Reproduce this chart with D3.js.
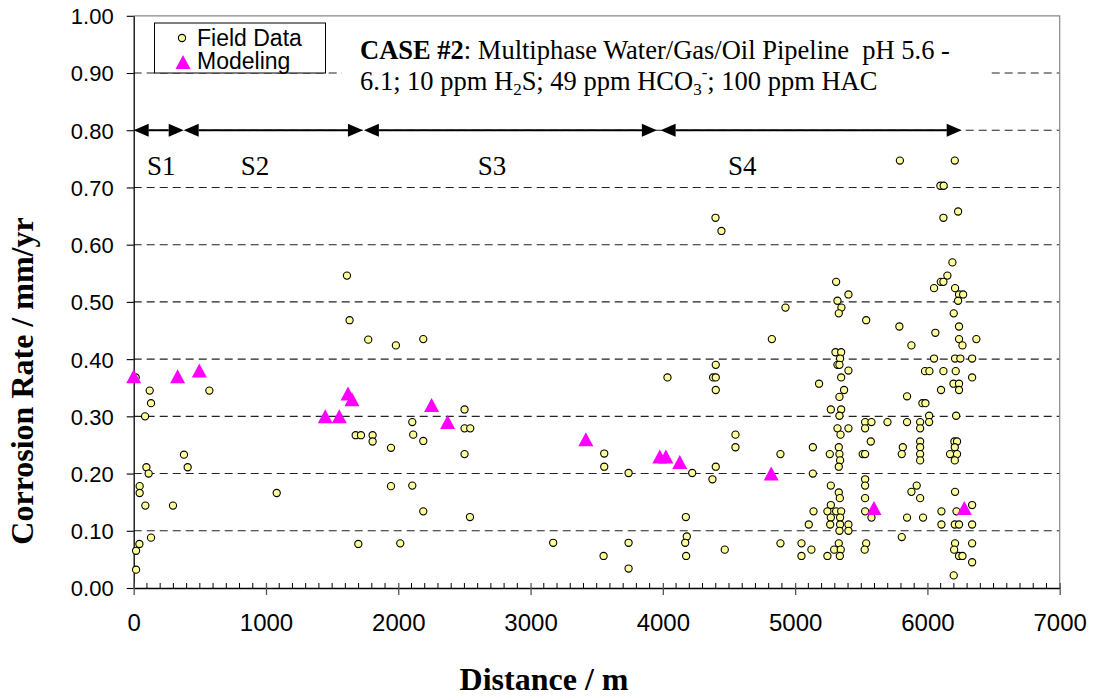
<!DOCTYPE html>
<html>
<head>
<meta charset="utf-8">
<script src="https://cdn.jsdelivr.net/npm/d3@7.9.0/dist/d3.min.js"></script>
<style>
  body { margin: 0; background: #fff; }
  svg { display: block; }
  .sans { font-family: "Liberation Sans", Arial, sans-serif; }
  .serif { font-family: "Liberation Serif", "Times New Roman", serif; }
</style>
</head>
<body>
<svg id="chart" width="1093" height="696"></svg>
<script>
// field measurements: [distance m, corrosion rate mm/yr]
const fieldData = [
  [15,0.368],[121,0.345],[131,0.323],[86,0.300],[96,0.211],[113,0.200],[45,0.178],[45,0.166],
  [88,0.144],[131,0.088],[43,0.077],[18,0.065],[18,0.032],
  [572,0.345],[380,0.233],[408,0.211],[297,0.144],[1081,0.166],
  [1612,0.546],[1632,0.468],[1773,0.434],[1982,0.424],[1678,0.267],[1718,0.267],[1806,0.267],
  [1806,0.256],[1945,0.245],[1945,0.178],[1698,0.077],[2015,0.078],
  [2189,0.435],[2106,0.290],[2113,0.268],[2189,0.257],[2501,0.312],[2501,0.279],[2544,0.279],
  [2501,0.234],[2106,0.179],[2189,0.134],[2542,0.124],[3171,0.079],
  [3557,0.235],[3557,0.212],[3741,0.201],[3552,0.056],[3741,0.079],[3741,0.034],
  [4035,0.368],[4400,0.390],[4380,0.368],[4400,0.368],[4400,0.346],[4222,0.201],[4400,0.212],
  [4375,0.190],[4174,0.124],[4181,0.090],[4169,0.079],[4176,0.056],[4468,0.067],[4549,0.268],
  [4549,0.246],[4398,0.647],[4443,0.624],
  [4824,0.435],[4927,0.490],[4889,0.234],[4889,0.078],
  [5310,0.535],[5403,0.513],[5320,0.502],[5350,0.490],[5330,0.480],[5537,0.468],[5305,0.412],
  [5348,0.412],[5340,0.401],[5320,0.390],[5335,0.390],[5403,0.380],[5348,0.368],[5181,0.357],
  [5370,0.346],[5335,0.334],[5270,0.312],[5348,0.312],[5335,0.301],[5320,0.279],[5403,0.279],
  [5343,0.268],[5134,0.246],[5330,0.246],[5262,0.234],[5335,0.234],[5340,0.223],[5330,0.212],
  [5134,0.200],[5270,0.179],[5330,0.167],[5338,0.157],[5270,0.145],[5139,0.134],[5244,0.134],
  [5310,0.134],[5348,0.134],[5270,0.123],[5340,0.123],[5103,0.111],[5265,0.111],[5340,0.111],
  [5403,0.111],[5335,0.100],[5403,0.100],[5048,0.078],[5330,0.078],[5123,0.067],[5295,0.067],
  [5345,0.067],[5048,0.056],[5244,0.056],[5338,0.056],
  [5529,0.290],[5577,0.290],[5529,0.279],[5572,0.256],[5511,0.234],[5529,0.234],[5529,0.190],
  [5529,0.179],[5529,0.157],[5529,0.134],[5577,0.123],[5537,0.078],[5526,0.067],
  [5698,0.290],[5788,0.457],[5879,0.424],[5846,0.335],[5846,0.290],[5814,0.246],[5806,0.234],
  [5846,0.123],[5806,0.089],[5919,0.179],[5879,0.168],[5945,0.157],[5967,0.123],[5962,0.323],
  [5985,0.323],[5945,0.290],[5945,0.279],[5945,0.256],[5945,0.246],[5945,0.234],[5945,0.223],
  [6013,0.301],[6013,0.290],[5982,0.379],[6015,0.379],[6050,0.401],[6060,0.446],[6050,0.524],
  [6101,0.535],[6121,0.535],[6151,0.546],[6189,0.569],[6209,0.524],[6239,0.513],[6270,0.513],
  [6232,0.502],[6199,0.480],[6239,0.457],[6239,0.435],[6265,0.424],[6370,0.435],[6209,0.401],
  [6249,0.401],[6338,0.401],[6121,0.379],[6214,0.379],[6338,0.368],[6197,0.357],[6239,0.357],
  [6103,0.346],[6239,0.346],[6217,0.301],[6204,0.256],[6224,0.256],[6207,0.246],[6171,0.234],
  [6224,0.234],[6207,0.223],[6209,0.168],[6338,0.145],[6220,0.134],[6106,0.134],[6106,0.111],
  [6207,0.111],[6239,0.111],[6338,0.111],[6209,0.078],[6338,0.078],[6202,0.067],[6239,0.056],
  [6265,0.056],[6338,0.045],[6199,0.022],
  [6098,0.703],[6123,0.703],[6121,0.647],[6232,0.658],[5792,0.747],[6207,0.747]
];

// model predictions
const modelData = [
  [0,0.37],[332,0.37],[496,0.38],[1448,0.30],[1554,0.30],[1620,0.34],[1650,0.33],[2252,0.32],
  [2373,0.29],[3418,0.26],[3977,0.23],[4023,0.23],[4128,0.22],[4819,0.20],[5596,0.14],[6279,0.14]
];

const xTicks = [0, 1000, 2000, 3000, 4000, 5000, 6000, 7000];
const yTicks = [0, 0.1, 0.2, 0.3, 0.4, 0.5, 0.6, 0.7, 0.8, 0.9, 1.0];

// pipeline sections marked with double arrows at 0.80
const sections = [
  { label: 'S1', from: 0, to: 378, at: 208 },
  { label: 'S2', from: 378, to: 1733, at: 917 },
  { label: 'S3', from: 1740, to: 3955, at: 2708 },
  { label: 'S4', from: 3983, to: 6259, at: 4600 }
];
const sectionLevel = 0.8;

const svg = d3.select('#chart');
const x = d3.scaleLinear().domain([0, 7000]).range([133.7, 1059.7]);
const y = d3.scaleLinear().domain([0, 1]).range([588, 15.8]);

// dashed gridlines
svg.append('g')
  .selectAll('line')
  .data(yTicks.filter(d => d > 0 && d < 1))
  .join('line')
  .attr('x1', x(0)).attr('x2', x(7000))
  .attr('y1', d => y(d)).attr('y2', d => y(d))
  .attr('stroke', '#222')
  .attr('stroke-width', 1.1)
  .attr('stroke-dasharray', '8,5');

// plot frame (top & right)
svg.append('path')
  .attr('d', `M${x(0)},${y(1)}H${x(7000)}V${y(0)}`)
  .attr('fill', 'none')
  .attr('stroke', '#888')
  .attr('stroke-width', 1.2);

// y axis
const yAxis = svg.append('g')
  .attr('transform', `translate(${x(0)},0)`)
  .call(d3.axisLeft(y).tickValues(yTicks).tickSize(7).tickSizeOuter(0).tickFormat(d3.format('.2f')));
yAxis.select('.domain').attr('stroke', '#000').attr('stroke-width', 1.3);
yAxis.selectAll('.tick line').attr('stroke', '#000').attr('stroke-width', 1.1);
yAxis.selectAll('text')
  .attr('class', 'sans')
  .attr('font-size', 22)
  .attr('x', -20)
  .attr('dy', '0.36em')
  .attr('fill', '#000');

// x axis
const xAxis = svg.append('g')
  .attr('transform', `translate(0,${y(0)})`)
  .call(d3.axisBottom(x).tickValues(xTicks).tickSize(7).tickSizeOuter(0).tickFormat(d3.format('d')));
xAxis.select('.domain').attr('stroke', '#000').attr('stroke-width', 1.3);
xAxis.selectAll('.tick line').attr('y1', -5).attr('stroke', '#555').attr('stroke-width', 1.3);
xAxis.selectAll('text')
  .attr('class', 'sans')
  .attr('font-size', 24)
  .attr('y', 26)
  .attr('fill', '#000');

// minor ticks every 100 m, inside
svg.append('g')
  .selectAll('line')
  .data(d3.range(100, 7000, 100).filter(d => d % 1000 !== 0))
  .join('line')
  .attr('x1', d => x(d)).attr('x2', d => x(d))
  .attr('y1', y(0)).attr('y2', y(0) - 5)
  .attr('stroke', '#000').attr('stroke-width', 1);

// axis titles
svg.append('text')
  .attr('class', 'serif')
  .attr('transform', `translate(33,381) rotate(-90)`)
  .attr('text-anchor', 'middle')
  .attr('font-size', 32).attr('font-weight', 'bold')
  .text('Corrosion Rate / mm/yr');

svg.append('text')
  .attr('class', 'serif')
  .attr('x', 544).attr('y', 690)
  .attr('text-anchor', 'middle')
  .attr('font-size', 32).attr('font-weight', 'bold')
  .text('Distance / m');

// annotation box
svg.append('rect')
  .attr('x', 342).attr('y', 30).attr('width', 645).attr('height', 70)
  .attr('fill', '#fff');

const note = svg.append('text')
  .attr('class', 'serif')
  .attr('font-size', 26.5)
  .attr('xml:space', 'preserve')
  .style('white-space', 'pre');
note.append('tspan').attr('x', 360).attr('y', 58.5).attr('font-weight', 'bold').text('CASE #2');
note.append('tspan').text(': Multiphase Water/Gas/Oil Pipeline  pH 5.6 -');
note.append('tspan').attr('x', 360).attr('y', 90).text('6.1; 10 ppm H');
note.append('tspan').attr('dy', 5).attr('font-size', 17).text('2');
note.append('tspan').attr('dy', -5).text('S; 49 ppm HCO');
note.append('tspan').attr('dy', 5).attr('font-size', 17).text('3');
note.append('tspan').attr('dy', -17).attr('font-size', 17).text('-');
note.append('tspan').attr('dy', 12).text('; 100 ppm HAC');

// section arrows
const ah = 15, aw = 6.5;
const arrows = svg.append('g');
sections.forEach(s => {
  const x0 = x(s.from), x1 = x(s.to), yy = y(sectionLevel);
  arrows.append('line')
    .attr('x1', x0 + ah).attr('x2', x1 - ah)
    .attr('y1', yy).attr('y2', yy)
    .attr('stroke', '#000').attr('stroke-width', 2);
  arrows.append('path')
    .attr('d', `M${x0},${yy}L${x0 + ah},${yy - aw}L${x0 + ah},${yy + aw}Z`)
    .attr('fill', '#000');
  arrows.append('path')
    .attr('d', `M${x1},${yy}L${x1 - ah},${yy - aw}L${x1 - ah},${yy + aw}Z`)
    .attr('fill', '#000');
  arrows.append('text')
    .attr('class', 'serif')
    .attr('x', x(s.at)).attr('y', 175)
    .attr('text-anchor', 'middle')
    .attr('font-size', 27)
    .text(s.label);
});

// field data points
svg.append('g')
  .selectAll('circle')
  .data(fieldData)
  .join('circle')
  .attr('cx', d => x(d[0]))
  .attr('cy', d => y(d[1]))
  .attr('r', 3.6)
  .attr('fill', '#ffff99')
  .attr('stroke', '#000')
  .attr('stroke-width', 1.1);

// modeling triangles
const tri = 'M0,-7L7.5,7L-7.5,7Z';
svg.append('g')
  .selectAll('path')
  .data(modelData)
  .join('path')
  .attr('d', tri)
  .attr('transform', d => `translate(${x(d[0])},${y(d[1])})`)
  .attr('fill', '#ff00ff');

// legend
const legend = svg.append('g');
legend.append('rect')
  .attr('x', 154.5).attr('y', 23).attr('width', 171).attr('height', 50)
  .attr('fill', '#fff').attr('stroke', '#000').attr('stroke-width', 1);
legend.append('circle')
  .attr('cx', 182).attr('cy', 38).attr('r', 3.6)
  .attr('fill', '#ffff99').attr('stroke', '#000').attr('stroke-width', 1.1);
legend.append('path')
  .attr('d', tri)
  .attr('transform', 'translate(183,62)')
  .attr('fill', '#ff00ff');
legend.append('text').attr('class', 'sans').attr('x', 197).attr('y', 45.5)
  .attr('font-size', 23).text('Field Data');
legend.append('text').attr('class', 'sans').attr('x', 197).attr('y', 69)
  .attr('font-size', 23).text('Modeling');
</script>
</body>
</html>
